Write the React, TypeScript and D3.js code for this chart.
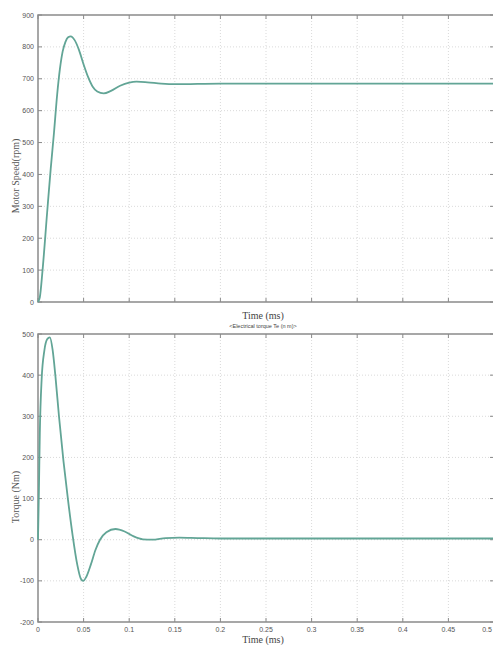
import React from 'react';
import * as d3 from 'd3';

// time in ms
const SPEED_T = [0, 0.002, 0.005, 0.01, 0.014, 0.0175, 0.021, 0.024, 0.027, 0.03, 0.033, 0.036, 0.04, 0.045, 0.05, 0.055, 0.06, 0.065, 0.072, 0.08, 0.09, 0.1, 0.108, 0.12, 0.135, 0.15, 0.2, 0.3, 0.4, 0.5];
const SPEED_V = [0, 15, 100, 280, 420, 530, 650, 730, 785, 815, 830, 833, 822, 790, 745, 705, 675, 660, 654, 662, 678, 688, 691, 689, 685, 683, 685, 685, 685, 685];

const TORQUE_T = [0, 0.001, 0.002, 0.004, 0.007, 0.01, 0.013, 0.016, 0.019, 0.023, 0.028, 0.033, 0.038, 0.043, 0.047, 0.0495, 0.053, 0.058, 0.063, 0.068, 0.075, 0.085, 0.095, 0.105, 0.115, 0.125, 0.14, 0.155, 0.175, 0.2, 0.3, 0.4, 0.5];
const TORQUE_V = [0, 120, 260, 390, 460, 487, 492, 462, 400, 300, 190, 95, 10, -60, -95, -100, -90, -60, -25, 0, 18, 26, 20, 8, 1, 0, 4, 5, 4, 3, 3, 3, 3];

const X_TICKS = [0, 0.05, 0.1, 0.15, 0.2, 0.25, 0.3, 0.35, 0.4, 0.45, 0.5];
const SPEED_TICKS = [0, 100, 200, 300, 400, 500, 600, 700, 800, 900];
const TORQUE_TICKS = [-200, -100, 0, 100, 200, 300, 400, 500];

const W = 493;
const H = 645;
const LEFT = 38;
const RIGHT = 494;
const LINE = '#62a596';
const AXIS = '#8a8a8a';

type PanelProps = {
  ts: number[];
  vs: number[];
  yDomain: [number, number];
  yTicks: number[];
  top: number;
  bottom: number;
  showXLabels: boolean;
};

function Panel({ ts, vs, yDomain, yTicks, top, bottom, showXLabels }: PanelProps) {
  const x = d3.scaleLinear().domain([0, 0.5]).range([LEFT, RIGHT]);
  const y = d3.scaleLinear().domain(yDomain).range([bottom, top]);
  const pts = ts.map((t, i) => [t, vs[i]] as [number, number]);
  const path = d3.line<[number, number]>()
    .x(d => x(d[0]))
    .y(d => y(d[1]))
    .curve(d3.curveMonotoneX)(pts);

  return (
    <g>
      {/* grid */}
      {X_TICKS.slice(1, -1).map(t => (
        <line key={'gx' + t} x1={x(t)} x2={x(t)} y1={top} y2={bottom}
          stroke="#cfcfcf" strokeWidth={0.8} strokeDasharray="1,2" />
      ))}
      {yTicks.slice(1, -1).map(v => (
        <line key={'gy' + v} x1={LEFT} x2={RIGHT} y1={y(v)} y2={y(v)}
          stroke="#cfcfcf" strokeWidth={0.8} strokeDasharray="1,2" />
      ))}
      {/* box */}
      <rect x={LEFT} y={top} width={RIGHT - LEFT} height={bottom - top}
        fill="none" stroke={AXIS} strokeWidth={1.5} />
      {/* ticks */}
      {X_TICKS.map(t => (
        <g key={'tx' + t}>
          <line x1={x(t)} x2={x(t)} y1={bottom} y2={bottom - 4} stroke={AXIS} />
          <line x1={x(t)} x2={x(t)} y1={top} y2={top + 4} stroke={AXIS} />
          {showXLabels && (
            <text x={Math.min(x(t), 487)} y={bottom + 10} textAnchor="middle" fontSize={7}
              fill="#555" fontFamily="Liberation Sans, Arial, sans-serif">{t}</text>
          )}
        </g>
      ))}
      {yTicks.map(v => (
        <g key={'ty' + v}>
          <line x1={LEFT} x2={LEFT + 4} y1={y(v)} y2={y(v)} stroke={AXIS} />
          <line x1={RIGHT - 4} x2={RIGHT} y1={y(v)} y2={y(v)} stroke={AXIS} />
          <text x={LEFT - 4} y={y(v) + 2.5} textAnchor="end" fontSize={7}
            fill="#555" fontFamily="Liberation Sans, Arial, sans-serif">{v}</text>
        </g>
      ))}
      <path d={path ?? ''} fill="none" stroke={LINE} strokeWidth={1.8} />
    </g>
  );
}

export default function App() {
  const serif = 'Liberation Serif, Times New Roman, serif';
  return (
    <div style={{ position: 'fixed', left: 0, top: 0, width: W, height: H, background: '#fff' }}>
      <svg width={W} height={H} style={{ display: 'block' }}>
        <rect width={W} height={H} fill="#fff" />
        <Panel ts={SPEED_T} vs={SPEED_V} yDomain={[0, 900]} yTicks={SPEED_TICKS}
          top={15} bottom={302} showXLabels={false} />
        <Panel ts={TORQUE_T} vs={TORQUE_V} yDomain={[-200, 500]} yTicks={TORQUE_TICKS}
          top={334} bottom={622} showXLabels={true} />

        <text x={263} y={319} textAnchor="middle" fontSize={10} fill="#444" fontFamily={serif}>Time (ms)</text>
        <text x={263} y={328} textAnchor="middle" fontSize={5.5} fill="#444"
          fontFamily="Liberation Sans, Arial, sans-serif">{'<Electrical torque Te (n m)>'}</text>
        <text x={263} y={643} textAnchor="middle" fontSize={10} fill="#444" fontFamily={serif}>Time (ms)</text>

        <text transform="translate(19,176) rotate(-90)" textAnchor="middle" fontSize={10}
          fill="#555" fontFamily={serif}>Motor Speed(rpm)</text>
        <text transform="translate(19,497) rotate(-90)" textAnchor="middle" fontSize={10}
          fill="#555" fontFamily={serif}>Torque (Nm)</text>
      </svg>
    </div>
  );
}
